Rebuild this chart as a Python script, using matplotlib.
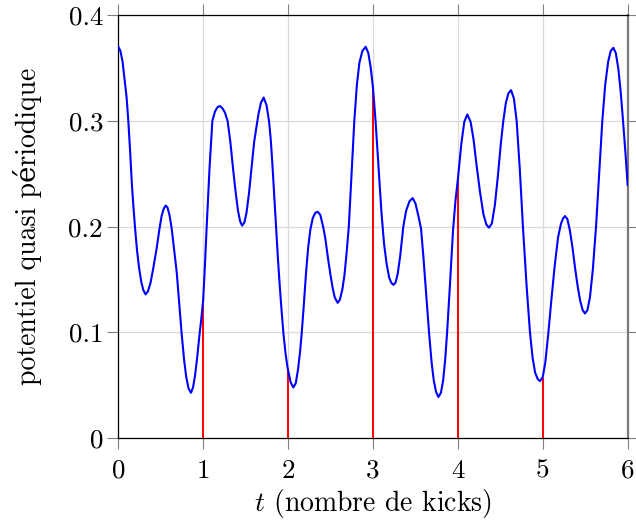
import matplotlib
matplotlib.use("Agg")
import matplotlib.pyplot as plt

# ---- data ----
t_vals = [0.000, 0.025, 0.050, 0.075, 0.098, 0.118, 0.140, 0.160, 0.178, 0.196,
          0.220, 0.245, 0.270, 0.295, 0.322, 0.350, 0.380, 0.410, 0.451, 0.483,
          0.510, 0.535, 0.558, 0.580, 0.605, 0.629, 0.660, 0.688, 0.715, 0.745,
          0.775, 0.800, 0.828, 0.856, 0.880, 0.905, 0.930, 0.955, 0.978, 1.000,
          1.020, 1.041, 1.075, 1.108, 1.140, 1.170, 1.197, 1.225, 1.255, 1.287,
          1.320, 1.350, 1.380, 1.410, 1.435, 1.459, 1.485, 1.510, 1.540, 1.570,
          1.600, 1.625, 1.650, 1.680, 1.712, 1.745, 1.775, 1.795, 1.815, 1.836,
          1.857, 1.880, 1.900, 1.922, 1.944, 1.970, 1.995, 2.030, 2.061, 2.090,
          2.115, 2.140, 2.161, 2.185, 2.210, 2.236, 2.262, 2.290, 2.320, 2.350,
          2.380, 2.415, 2.440, 2.470, 2.500, 2.525, 2.550, 2.584, 2.610, 2.640,
          2.665, 2.690, 2.715, 2.747, 2.780, 2.810, 2.840, 2.875, 2.914, 2.945,
          2.972, 3.000, 3.030, 3.065, 3.100, 3.130, 3.160, 3.190, 3.215, 3.240,
          3.265, 3.290, 3.320, 3.357, 3.390, 3.430, 3.467, 3.500, 3.535, 3.566,
          3.595, 3.628, 3.660, 3.690, 3.715, 3.742, 3.770, 3.800, 3.825, 3.850,
          3.872, 3.905, 3.943, 3.972, 4.000, 4.040, 4.075, 4.111, 4.150, 4.185,
          4.220, 4.260, 4.300, 4.335, 4.366, 4.400, 4.435, 4.470, 4.505, 4.535,
          4.565, 4.595, 4.626, 4.660, 4.692, 4.730, 4.766, 4.810, 4.849, 4.880,
          4.910, 4.940, 4.967, 5.000, 5.030, 5.066, 5.100, 5.140, 5.180, 5.215,
          5.240, 5.262, 5.290, 5.320, 5.350, 5.380, 5.410, 5.440, 5.470, 5.497,
          5.525, 5.555, 5.590, 5.627, 5.665, 5.701, 5.735, 5.770, 5.800, 5.831,
          5.860, 5.890, 5.918, 5.945, 5.975, 6.000]
v_vals = [0.370, 0.366, 0.356, 0.338, 0.322, 0.300, 0.270, 0.240, 0.219, 0.200,
          0.178, 0.161, 0.148, 0.140, 0.136, 0.139, 0.147, 0.160, 0.179, 0.197,
          0.210, 0.217, 0.220, 0.218, 0.210, 0.198, 0.176, 0.157, 0.130, 0.100,
          0.074, 0.058, 0.047, 0.043, 0.048, 0.060, 0.077, 0.097, 0.113, 0.131,
          0.163, 0.200, 0.256, 0.300, 0.309, 0.313, 0.314, 0.312, 0.308, 0.300,
          0.280, 0.256, 0.234, 0.215, 0.205, 0.201, 0.204, 0.213, 0.232, 0.256,
          0.280, 0.293, 0.306, 0.317, 0.322, 0.315, 0.300, 0.283, 0.259, 0.230,
          0.200, 0.170, 0.146, 0.122, 0.100, 0.080, 0.066, 0.053, 0.048, 0.052,
          0.064, 0.081, 0.100, 0.126, 0.155, 0.180, 0.197, 0.208, 0.213, 0.214,
          0.211, 0.199, 0.188, 0.170, 0.154, 0.142, 0.133, 0.128, 0.131, 0.141,
          0.155, 0.176, 0.200, 0.250, 0.300, 0.334, 0.355, 0.366, 0.370, 0.364,
          0.351, 0.331, 0.300, 0.257, 0.213, 0.184, 0.165, 0.152, 0.147, 0.145,
          0.147, 0.155, 0.172, 0.200, 0.215, 0.224, 0.227, 0.222, 0.210, 0.198,
          0.170, 0.135, 0.100, 0.072, 0.055, 0.044, 0.039, 0.043, 0.054, 0.074,
          0.099, 0.143, 0.197, 0.225, 0.245, 0.278, 0.299, 0.306, 0.299, 0.282,
          0.258, 0.233, 0.212, 0.202, 0.199, 0.203, 0.220, 0.247, 0.278, 0.300,
          0.317, 0.326, 0.329, 0.321, 0.300, 0.253, 0.200, 0.143, 0.100, 0.076,
          0.062, 0.056, 0.054, 0.058, 0.072, 0.100, 0.130, 0.163, 0.190, 0.203,
          0.208, 0.210, 0.207, 0.196, 0.180, 0.161, 0.144, 0.130, 0.121, 0.118,
          0.121, 0.133, 0.160, 0.200, 0.252, 0.300, 0.334, 0.356, 0.366, 0.369,
          0.364, 0.349, 0.327, 0.300, 0.268, 0.239]
kick_t = [1, 2, 3, 4, 5]
kick_v = [0.129, 0.0667, 0.331, 0.245, 0.0567]
x_ticks = [0, 1, 2, 3, 4, 5, 6]
x_labels = ["0", "1", "2", "3", "4", "5", "6"]
y_ticks = [0, 0.1, 0.2, 0.3, 0.4]
y_labels = ["0", "0.1", "0.2", "0.3", "0.4"]

plt.rcParams['font.family'] = ['cmr10', 'DejaVu Serif']
plt.rcParams['mathtext.fontset'] = 'cm'
plt.rcParams['axes.formatter.use_mathtext'] = True

fig = plt.figure(figsize=(6.36, 5.21), dpi=100)
ax = fig.add_axes([118.3 / 636, 1 - 438.3 / 521, (627.7 - 118.3) / 636, (438.3 - 15) / 521])

ax.grid(True, color='#dadada', linewidth=0.9, zorder=0)
ax.vlines(kick_t, 0, kick_v, colors='#ff0000', linewidth=1.4, zorder=3)
ax.plot(t_vals, v_vals, color='#0000ff', linewidth=1.5, zorder=4,
        solid_joinstyle='round', solid_capstyle='round')

ax.set_xlim(0, 6)
ax.set_ylim(0, 0.4)
ax.set_xticks(x_ticks)
ax.set_xticklabels(x_labels)
ax.set_yticks(y_ticks)
ax.set_yticklabels(y_labels)
ax.tick_params(direction='out', length=8, width=0.8, color='#808080',
               labelsize=19.5, top=True, right=True,
               labeltop=False, labelright=False)
ax.tick_params(axis='x', pad=7)
ax.tick_params(axis='y', pad=3)
ax.set_axisbelow(True)
for side in ['left', 'bottom', 'top']:
    ax.spines[side].set_color('black')
    ax.spines[side].set_linewidth(0.9)
ax.spines['right'].set_color('#7a7a7a')
ax.spines['right'].set_linewidth(1.6)

ax.set_xlabel(r'$t$ (nombre de kicks)', fontsize=20, labelpad=3)
ax.set_ylabel('potentiel quasi périodique', fontsize=20, labelpad=19)

fig.savefig('out.png', dpi=100)
